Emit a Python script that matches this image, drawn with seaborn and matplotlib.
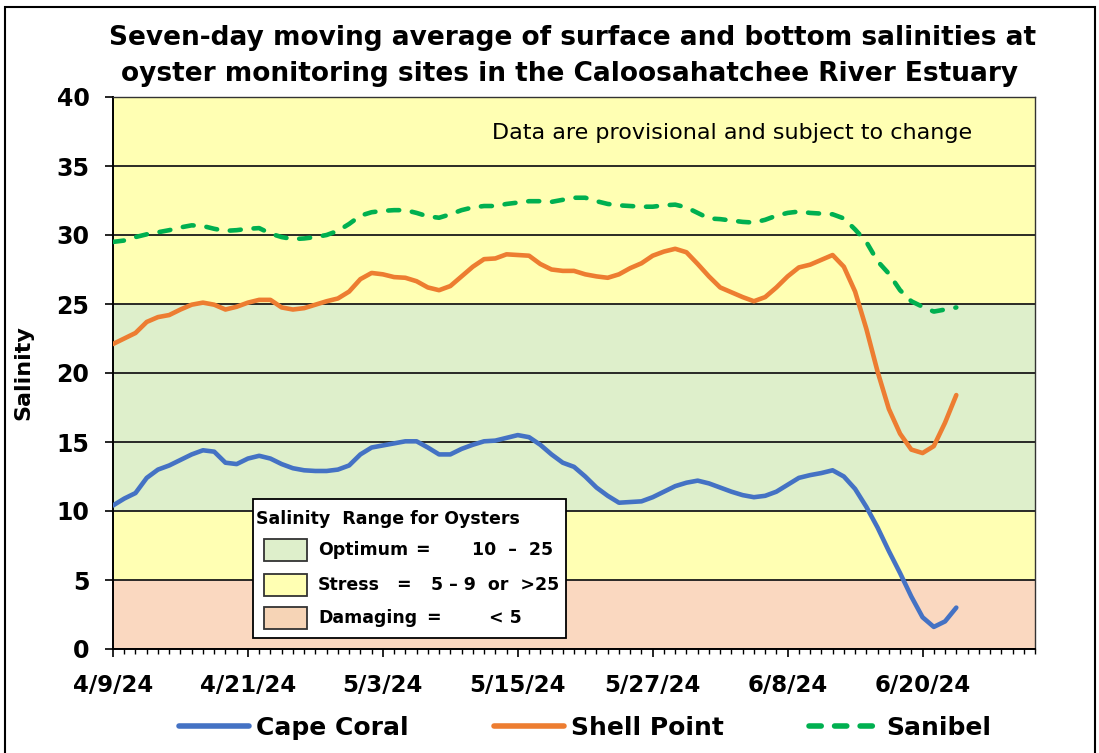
import numpy as np
import pandas as pd
import matplotlib
matplotlib.use("Agg")
import matplotlib.pyplot as plt
from matplotlib.patches import Rectangle
from matplotlib.lines import Line2D
import seaborn as sns

# ---------------- data ----------------
start_date = "2024-04-09"
axis_end = "2024-06-30"
sites = ["Cape Coral", "Shell Point", "Sanibel"]

cape_coral = [10.4, 10.9, 11.3, 12.4, 13.0, 13.3, 13.7, 14.1, 14.4, 14.3,
              13.5, 13.4, 13.8, 14.0, 13.8, 13.4, 13.1, 12.95, 12.9, 12.9,
              13.0, 13.3, 14.1, 14.6, 14.75, 14.9, 15.05, 15.05, 14.6, 14.1,
              14.1, 14.5, 14.8, 15.05, 15.1, 15.3, 15.5, 15.35, 14.8, 14.1,
              13.5, 13.2, 12.5, 11.7, 11.1, 10.6, 10.65, 10.7, 11.0, 11.4,
              11.8, 12.05, 12.2, 12.0, 11.7, 11.4, 11.15, 11.0, 11.1, 11.4,
              11.9, 12.4, 12.6, 12.75, 12.95, 12.5, 11.6, 10.3, 8.8, 7.1,
              5.5, 3.8, 2.3, 1.6, 2.0, 3.0]

shell_point = [22.1, 22.5, 22.9, 23.7, 24.05, 24.2, 24.6, 24.95, 25.1, 24.95,
               24.6, 24.8, 25.1, 25.3, 25.3, 24.75, 24.6, 24.7, 24.95, 25.2,
               25.4, 25.9, 26.8, 27.25, 27.15, 26.95, 26.9, 26.65, 26.2, 26.0,
               26.3, 27.0, 27.7, 28.25, 28.3, 28.6, 28.55, 28.5, 27.9, 27.5,
               27.4, 27.4, 27.15, 27.0, 26.9, 27.15, 27.6, 27.95, 28.5, 28.8,
               29.0, 28.75, 27.9, 27.0, 26.2, 25.85, 25.5, 25.2, 25.5, 26.2,
               27.0, 27.65, 27.85, 28.2, 28.55, 27.7, 25.9, 23.2, 20.1, 17.4,
               15.6, 14.45, 14.2, 14.7, 16.4, 18.4]

sanibel = [29.5, 29.6, 29.85, 30.05, 30.2, 30.35, 30.55, 30.7, 30.65, 30.45,
           30.3, 30.35, 30.45, 30.5, 30.1, 29.85, 29.7, 29.75, 29.85, 30.0,
           30.3, 30.8, 31.4, 31.65, 31.75, 31.8, 31.8, 31.6, 31.35, 31.25,
           31.5, 31.8, 32.0, 32.1, 32.1, 32.25, 32.35, 32.45, 32.45, 32.4,
           32.55, 32.7, 32.7, 32.45, 32.25, 32.15, 32.1, 32.05, 32.05, 32.15,
           32.2, 32.0, 31.6, 31.2, 31.15, 31.05, 30.95, 30.9, 31.1, 31.4,
           31.6, 31.7, 31.6, 31.55, 31.5, 31.2, 30.4, 29.5, 28.1, 27.2,
           26.0, 25.2, 24.8, 24.45, 24.6, 24.75]

tick_labels = ["4/9/24", "4/21/24", "5/3/24", "5/15/24", "5/27/24", "6/8/24", "6/20/24"]
y_ticks = [0, 5, 10, 15, 20, 25, 30, 35, 40]

band_edges = [0, 5, 10, 25, 40]
band_colors = ["#FAD8C0", "#FFFFB3", "#DEEFCB", "#FFFFB3"]

range_names = ["Optimum", "Stress", "Damaging"]
range_values = ["10  \u2013  25", "5 \u2013 9  or  >25", "< 5"]
range_colors = ["#DEEFCB", "#FFFFB3", "#F6D4B6"]

title_lines = ["Seven-day moving average of surface and bottom salinities at",
               "oyster monitoring sites in the Caloosahatchee River Estuary"]
note_text = "Data are provisional and subject to change"

# ---------------- style ----------------
line_colors = ["#4472C4", "#ED7D31", "#00B050"]
line_dashes = [None, None, (2.4, 2.8)]

sns.set_style("white")
plt.rcParams["font.family"] = ["DejaVu Sans"]
for k in ["text.color", "axes.labelcolor", "xtick.color", "ytick.color"]:
    plt.rcParams[k] = "black"

W, H = 1099, 753
fig = plt.figure(figsize=(W / 100, H / 100), dpi=100)
ax_l, ax_r, ax_t, ax_b = 113, 1035, 97, 649
ax = fig.add_axes([ax_l / W, 1 - ax_b / H, (ax_r - ax_l) / W, (ax_b - ax_t) / H])

# background bands
for lo, hi, c in zip(band_edges[:-1], band_edges[1:], band_colors):
    ax.axhspan(lo, hi, color=c, zorder=0, lw=0)

dates = pd.date_range(start_date, periods=len(cape_coral), freq="D")
series = [cape_coral, shell_point, sanibel]
for name, vals, col, dsh in zip(sites, series, line_colors, line_dashes):
    sns.lineplot(x=dates, y=vals, color=col, linewidth=3.3, ax=ax, zorder=3,
                 legend=False)
    ln = ax.lines[-1]
    ln.set_solid_capstyle("round")
    ln.set_solid_joinstyle("round")
    if dsh is not None:
        ln.set_dashes(dsh)
        ln.set_dash_capstyle("round")

ax.set_ylim(0, 40)
ax.set_xlim(pd.Timestamp(start_date), pd.Timestamp(axis_end))
ax.set_yticks(y_ticks, labels=[str(v) for v in y_ticks], fontsize=17, fontweight="bold")
major = pd.date_range(start_date, periods=len(tick_labels), freq="12D")
ax.set_xticks(major, labels=tick_labels, fontsize=16.5, fontweight="bold")
ax.set_xticks(pd.date_range(start_date, axis_end, freq="D"), minor=True)

ax.yaxis.grid(True, color="#1a1a1a", lw=1.3)
ax.xaxis.grid(False)
ax.set_axisbelow("line")
for s in ax.spines.values():
    s.set_color("#333333")
    s.set_linewidth(1.0)
ax.spines["left"].set_color("black")
ax.spines["bottom"].set_color("black")
ax.spines["left"].set_linewidth(1.4)
ax.spines["bottom"].set_linewidth(1.4)

ax.tick_params(axis="y", which="major", direction="out", length=6, width=1.2,
               pad=11, left=True, color="black")
ax.tick_params(axis="x", which="major", direction="out", length=6, width=1.2,
               pad=12, bottom=True, color="black")
ax.tick_params(axis="x", which="minor", direction="out", length=3.5, width=1.0,
               bottom=True, color="black")

ax.set_xlabel("")
ax.set_ylabel("Salinity", fontsize=16, fontweight="bold")
ax.yaxis.set_label_coords((33 - ax_l) / (ax_r - ax_l), 0.5)

# note
ax.text((732 - ax_l) / (ax_r - ax_l), (ax_b - 133) / (ax_b - ax_t), note_text,
        transform=ax.transAxes, ha="center", va="center", fontsize=16)

# title
fig.text(573 / W, 1 - 38 / H, title_lines[0], ha="center", va="center",
         fontsize=19, fontweight="bold")
fig.text(570 / W, 1 - 74 / H, title_lines[1], ha="center", va="center",
         fontsize=19, fontweight="bold")

# oyster range box (pixel-positioned annotation)
def axp(px, py):
    return (px - ax_l) / (ax_r - ax_l), (ax_b - py) / (ax_b - ax_t)

bx0, by0 = axp(253, 638)
bx1, by1 = axp(566, 499)
ax.add_patch(Rectangle((bx0, by0), bx1 - bx0, by1 - by0, transform=ax.transAxes,
                       facecolor="white", edgecolor="black", lw=1.3, zorder=5))
tx, ty = axp(256, 519)
ax.text(tx, ty, "Salinity  Range for Oysters", transform=ax.transAxes,
        ha="left", va="center", fontsize=12.5, fontweight="bold", zorder=6)
row_y = [550, 585, 618]
eq_x = [422, 403, 433]
val_x = [513, 495, 505]
for name, val, col, ry, ex, vx in zip(range_names, range_values, range_colors,
                                      row_y, eq_x, val_x):
    px0, py0 = axp(264, ry + 11)
    px1, py1 = axp(307, ry - 11)
    ax.add_patch(Rectangle((px0, py0), px1 - px0, py1 - py0, transform=ax.transAxes,
                           facecolor=col, edgecolor="#333333", lw=1.3, zorder=6))
    nx, ny = axp(318, ry)
    ax.text(nx, ny, name, transform=ax.transAxes, ha="left", va="center",
            fontsize=12.5, fontweight="bold", zorder=6)
    ex_, _ = axp(ex, ry)
    ax.text(ex_, ny, "=", transform=ax.transAxes, ha="center", va="center",
            fontsize=12.5, fontweight="bold", zorder=6)
    vx_, _ = axp(vx, ry)
    ax.text(vx_, ny, val, transform=ax.transAxes, ha="center", va="center",
            fontsize=12.5, fontweight="bold", zorder=6)

# series legend
handles = []
for name, col, dsh in zip(sites, line_colors, line_dashes):
    h = Line2D([], [], color=col, lw=4.0, solid_capstyle="round",
               dash_capstyle="round")
    if dsh is not None:
        h.set_dashes((2.2, 2.4))
    handles.append(h)
leg = fig.legend(handles, sites, loc="center", bbox_to_anchor=(585 / W, 1 - 728 / H),
                 ncol=3, frameon=False, prop={"size": 18, "weight": "bold"},
                 handlelength=2.8, handletextpad=0.3, columnspacing=3.4)

# outer chart border
fig.add_artist(Rectangle((5 / W, -0.05), (1095 - 5) / W, 1.05 - 7 / H,
                         transform=fig.transFigure, fill=False, ec="black", lw=1.5))

fig.savefig("out.png", dpi=100)
